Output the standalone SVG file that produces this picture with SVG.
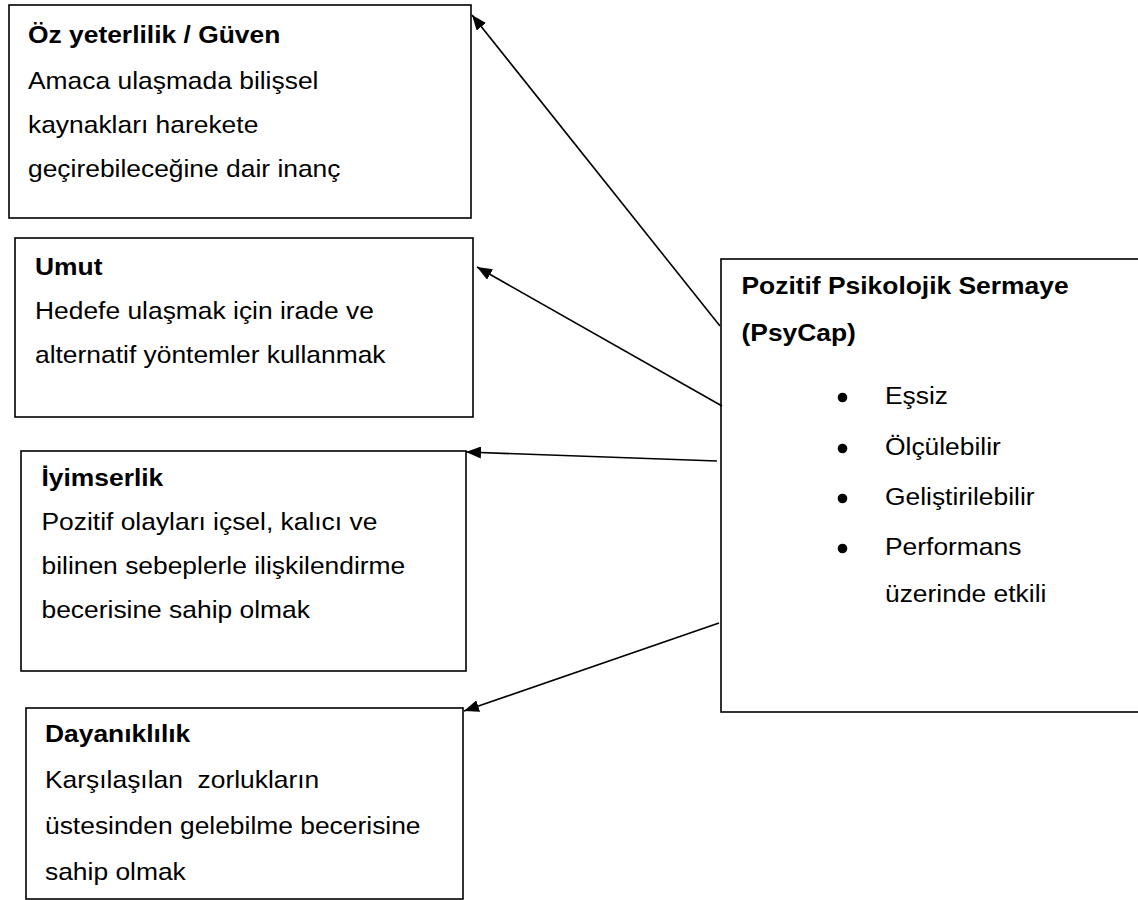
<svg xmlns="http://www.w3.org/2000/svg" width="1138" height="900" viewBox="0 0 1138 900">
<style>
.box{fill:#fff;stroke:#000;stroke-width:1.6}
.t{font-family:"Liberation Sans",Arial,sans-serif;font-size:24px;fill:#000;white-space:pre}
.b{font-weight:bold}
.con{stroke:#000;stroke-width:1.6;fill:none}
</style>
<defs>
<marker id="ah" markerUnits="userSpaceOnUse" markerWidth="16" markerHeight="12" refX="15" refY="6" orient="auto">
<path d="M0,0 L15,6 L0,12 Z" fill="#000"/>
</marker>
</defs>
<rect width="1138" height="900" fill="#fff"/>
<g id="node-oz">
<rect class="box" x="9" y="5" width="462" height="213"/>
<text class="t b" transform="translate(28 43) scale(1.1 1)">Öz yeterlilik / Güven</text>
<text class="t" transform="translate(28 89) scale(1.1 1)">Amaca ulaşmada bilişsel</text>
<text class="t" transform="translate(28 133) scale(1.1 1)">kaynakları harekete</text>
<text class="t" transform="translate(28 177) scale(1.1 1)">geçirebileceğine dair inanç</text>
</g>
<g id="node-umut">
<rect class="box" x="15" y="238" width="458" height="179"/>
<text class="t b" transform="translate(35 275) scale(1.1 1)">Umut</text>
<text class="t" transform="translate(35 319) scale(1.1 1)">Hedefe ulaşmak için irade ve</text>
<text class="t" transform="translate(35 363) scale(1.1 1)">alternatif yöntemler kullanmak</text>
</g>
<g id="node-iyimserlik">
<rect class="box" x="21" y="451" width="445" height="220"/>
<text class="t b" transform="translate(41.5 486) scale(1.1 1)">İyimserlik</text>
<text class="t" transform="translate(41.5 530) scale(1.1 1)">Pozitif olayları içsel, kalıcı ve</text>
<text class="t" transform="translate(41.5 574) scale(1.1 1)">bilinen sebeplerle ilişkilendirme</text>
<text class="t" transform="translate(41.5 618) scale(1.1 1)">becerisine sahip olmak</text>
</g>
<g id="node-dayaniklilik">
<rect class="box" x="26" y="708" width="437" height="191"/>
<text class="t b" transform="translate(45 742) scale(1.1 1)">Dayanıklılık</text>
<text class="t" transform="translate(45 788) scale(1.1 1)">Karşılaşılan  zorlukların</text>
<text class="t" transform="translate(45 834) scale(1.1 1)">üstesinden gelebilme becerisine</text>
<text class="t" transform="translate(45 880) scale(1.1 1)">sahip olmak</text>
</g>
<g id="node-psycap">
<rect class="box" x="721" y="259" width="430" height="453"/>
<text class="t b" transform="translate(741.5 294) scale(1.1 1)">Pozitif Psikolojik Sermaye</text>
<text class="t b" transform="translate(741.5 341) scale(1.1 1)">(PsyCap)</text>
<circle cx="842.5" cy="397.5" r="4.8"/>
<circle cx="842.5" cy="448.5" r="4.8"/>
<circle cx="842.5" cy="498.5" r="4.8"/>
<circle cx="842.5" cy="548.5" r="4.8"/>
<text class="t" transform="translate(885 404) scale(1.1 1)">Eşsiz</text>
<text class="t" transform="translate(885 455) scale(1.1 1)">Ölçülebilir</text>
<text class="t" transform="translate(885 505) scale(1.1 1)">Geliştirilebilir</text>
<text class="t" transform="translate(885 555) scale(1.1 1)">Performans</text>
<text class="t" transform="translate(885 602) scale(1.1 1)">üzerinde etkili</text>
</g>
<g id="connectors">
<line class="con" x1="720" y1="326" x2="472" y2="15" marker-end="url(#ah)"/>
<line class="con" x1="722" y1="406" x2="477" y2="267" marker-end="url(#ah)"/>
<line class="con" x1="717" y1="461" x2="466" y2="452" marker-end="url(#ah)"/>
<line class="con" x1="719" y1="623" x2="464" y2="711" marker-end="url(#ah)"/>
</g>
</svg>
